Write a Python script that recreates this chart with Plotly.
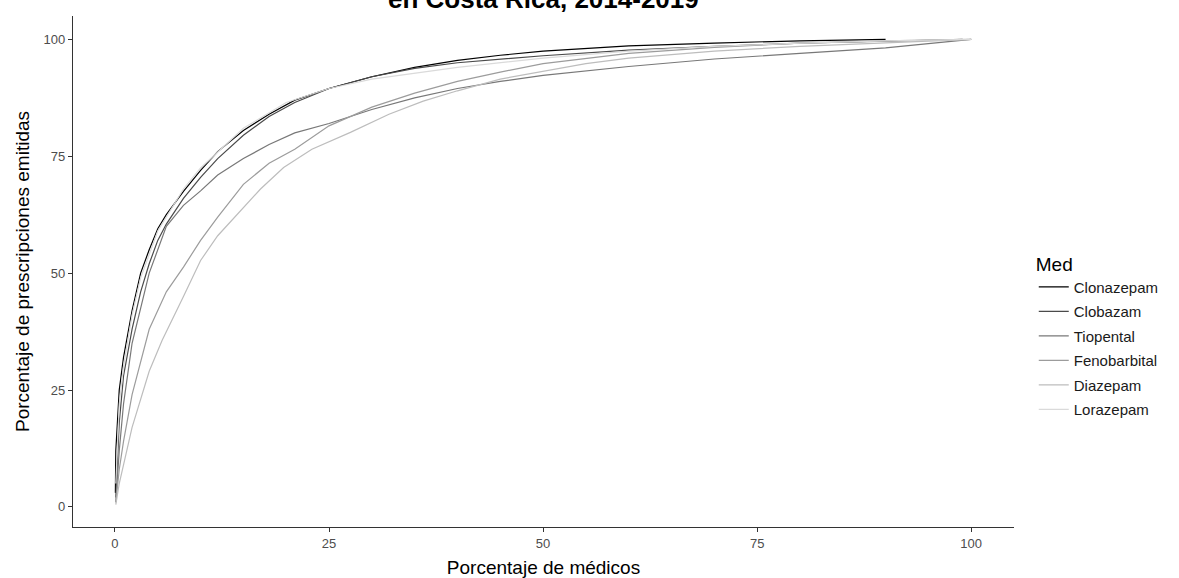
import plotly.graph_objects as go

meds = ["Clonazepam", "Clobazam", "Tiopental", "Fenobarbital", "Diazepam", "Lorazepam"]
colors = ["#000000", "#4a4a4a", "#787878", "#9c9c9c", "#bdbdbd", "#dadada"]

clonazepam_x = [0.05, 0.1, 0.5, 1, 2, 3, 4, 5, 6, 8, 10, 12, 15, 18, 21, 25, 30, 35, 40, 45, 50, 60, 70, 80, 90]
clonazepam_y = [3, 12, 25, 32, 42, 50, 55, 59.5, 62.5, 67.5, 72, 76, 80.5, 84, 87, 89.5, 92, 94, 95.5, 96.6, 97.5, 98.6, 99.2, 99.7, 100]

clobazam_x = [0.1, 0.5, 1, 2, 3, 4, 5, 6, 8, 10, 12, 15, 18, 21, 25, 30, 35, 40, 50, 60, 70, 80, 90, 99]
clobazam_y = [2, 18, 28, 38, 46, 52, 57, 60.5, 66, 70.5, 74.5, 79.5, 83.5, 86.5, 89.5, 92, 93.8, 95, 96.5, 97.7, 98.5, 99.2, 99.6, 100]

tiopental_x = [0.1, 0.5, 1, 2, 4, 6, 8, 10, 12, 15, 18, 21, 25, 30, 35, 40, 45, 50, 60, 70, 80, 90, 100]
tiopental_y = [1, 12, 22, 35, 50, 60, 64.5, 67.6, 71, 74.5, 77.5, 80, 82, 85, 87.5, 89.5, 91, 92.3, 94.2, 95.8, 97, 98.2, 100]

fenobarbital_x = [0.1, 0.5, 1, 2, 4, 6, 8, 10, 12, 15, 18, 21, 25, 30, 35, 40, 45, 50, 60, 70, 80, 90, 100]
fenobarbital_y = [1, 8, 14, 24, 38, 46, 51.3, 57, 62, 69, 73.5, 76.5, 81.5, 85.5, 88.5, 91, 93, 94.8, 97, 98.3, 99.2, 99.7, 100]

diazepam_x = [0.1, 0.5, 1, 2, 4, 5.5, 8, 10, 12, 14.7, 17, 19.7, 23, 27.5, 32, 36, 40, 45, 50, 55, 60, 70, 80, 90, 100]
diazepam_y = [0.5, 5, 9, 17, 29, 35.6, 45, 52.7, 58, 63.4, 68, 72.6, 76.5, 80.1, 84, 86.8, 89, 91.5, 93.2, 94.8, 96, 97.5, 98.5, 99.3, 100]

lorazepam_x = [0.1, 0.5, 1, 2, 3, 5, 8, 10, 15, 20, 25, 30, 40, 50, 60, 70, 80, 90, 100]
lorazepam_y = [5, 22, 30, 41, 49, 59, 68, 72.5, 81, 86.5, 89.5, 91.5, 94, 96, 97.5, 98.5, 99.2, 99.7, 100]

xs = [clonazepam_x, clobazam_x, tiopental_x, fenobarbital_x, diazepam_x, lorazepam_x]
ys = [clonazepam_y, clobazam_y, tiopental_y, fenobarbital_y, diazepam_y, lorazepam_y]

x_ticks = [0, 25, 50, 75, 100]
y_ticks = [0, 25, 50, 75, 100]

title_text = "en Costa Rica, 2014-2019"
x_title = "Porcentaje de médicos"
y_title = "Porcentaje de prescripciones emitidas"
legend_title = "Med"

fig = go.Figure()
for name, x, y, c in zip(meds, xs, ys, colors):
    fig.add_trace(go.Scatter(x=x, y=y, mode="lines", name=name,
                             line=dict(color=c, width=1.2),
                             legendgroup=name))

font_family = "Liberation Sans, Arial, sans-serif"
fig.update_layout(
    width=1179, height=578,
    margin=dict(l=73, r=165, t=16, b=51),
    paper_bgcolor="white", plot_bgcolor="white",
    font=dict(family=font_family, color="#000000"),
    showlegend=True,
    legend=dict(x=1.021, xanchor="left", y=0.55, yanchor="top",
                title=dict(text=legend_title, font=dict(size=19, color="#000000")),
                font=dict(size=15, color="#1a1a1a"),
                tracegroupgap=2, bgcolor="rgba(0,0,0,0)"),
    annotations=[dict(text="<b>" + title_text + "</b>", xref="paper", yref="paper",
                      x=0.5, y=1, xanchor="center", yanchor="bottom", yshift=0,
                      showarrow=False, font=dict(size=26, color="#000000"))],
)
fig.update_xaxes(range=[-4.9, 105], tickvals=x_ticks, showgrid=False, zeroline=False,
                 showline=True, linecolor="#333333", linewidth=1.2, automargin=False,
                 ticks="outside", ticklen=4, tickcolor="#333333",
                 tickfont=dict(size=13, color="#4d4d4d"),
                 title=dict(text=x_title, font=dict(size=19), standoff=10))
fig.update_yaxes(range=[-4.3, 105], tickvals=y_ticks, showgrid=False, zeroline=False,
                 showline=True, linecolor="#333333", linewidth=1.2, automargin=False,
                 ticks="outside", ticklen=4, tickcolor="#333333",
                 tickfont=dict(size=13, color="#4d4d4d"),
                 title=dict(text=y_title, font=dict(size=19), standoff=8))

fig.write_html("out.html", config={"displayModeBar": False},
               post_script="document.body.style.margin='0';")
